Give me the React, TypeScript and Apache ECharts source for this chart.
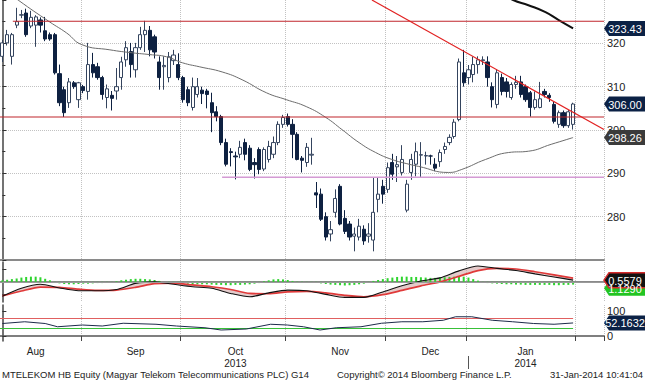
import React, { useEffect, useRef } from "react";
import * as echarts from "echarts";

// ---- price data (daily candles, oldest first) ----
const open = [317.0,320.1,317.0,324.2,326.5,327.0,324.0,324.2,325.4,322.9,
322.0,322.0,313.0,309.3,306.3,310.9,307.0,310.0,308.9,315.1,
314.6,312.1,307.5,308.0,309.0,312.1,316.2,318.1,313.9,319.0,
322.0,323.0,321.5,315.7,314.6,312.1,316.0,315.1,312.1,309.3,
305.2,308.2,309.2,309.0,306.3,304.2,303.1,297.1,295.0,294.0,
294.4,297.1,295.8,292.5,295.5,291.0,293.2,294.4,297.1,301.3,
303.1,301.3,299.0,293.5,292.5,294.2,285.5,285.2,280.0,276.0,
281.0,287.0,279.6,278.3,275.5,275.3,277.1,275.5,274.6,284.0,
287.0,286.3,292.5,291.5,290.2,281.5,290.2,292.1,294.2,294.0,
294.0,292.1,292.7,295.5,297.1,298.5,302.4,313.2,312.1,312.8,
315.1,316.0,315.7,310.0,305.9,312.1,311.1,307.5,310.5,311.1,
310.0,308.6,305.2,305.2,308.9,308.0,305.9,301.3,304.0,301.0,
301.3];
const close = [320.1,322.0,322.0,325.0,326.6,322.0,326.0,326.1,324.2,321.0,
321.0,313.2,306.3,304.0,311.1,310.0,310.9,309.1,315.1,313.2,
312.1,308.2,309.5,307.3,310.0,315.7,319.0,315.1,319.0,322.0,
323.0,318.5,318.0,312.1,314.9,316.9,317.3,312.1,307.0,306.3,
310.0,310.0,308.4,308.2,304.0,303.1,297.1,292.1,294.8,293.8,
296.0,294.4,290.9,292.0,290.9,295.5,296.2,297.1,301.3,302.9,
301.3,299.0,293.2,293.0,296.0,294.4,285.0,279.4,275.3,277.0,
284.2,278.3,276.6,275.3,276.0,277.8,274.4,276.0,281.0,285.2,
285.2,291.3,289.8,292.0,293.2,287.5,293.2,295.0,294.3,294.1,
294.0,291.2,294.8,296.2,298.3,301.8,315.7,310.9,313.9,315.1,
316.2,316.2,312.1,307.0,313.2,308.9,308.9,310.5,311.0,308.2,
307.0,305.2,307.0,307.2,308.2,307.5,302.0,304.0,301.0,304.2,
306.0];
const low = [315.7,319.5,315.1,323.5,325.8,321.5,323.5,319.2,322.5,320.5,
320.6,312.8,305.5,303.0,305.1,309.5,305.1,308.5,307.0,312.1,
311.6,307.0,305.0,304.5,307.0,309.3,314.6,312.1,312.1,318.5,
318.0,317.0,316.5,309.3,309.3,311.0,315.0,311.5,306.3,305.5,
304.5,307.5,306.0,305.0,299.5,302.0,296.5,291.6,291.6,288.6,
293.5,293.0,290.5,288.8,289.8,290.5,292.5,293.5,296.5,300.5,
300.8,293.5,293.0,290.2,291.5,292.0,282.0,279.0,274.5,274.3,
279.8,278.0,276.0,274.5,272.0,274.5,273.5,274.0,272.0,281.0,
283.0,285.5,288.5,288.0,289.5,281.0,288.5,289.3,289.0,292.0,
292.0,290.5,291.5,294.5,296.5,298.0,302.0,310.0,310.5,311.0,
313.0,315.0,310.0,305.2,305.0,308.0,307.5,307.0,309.5,307.5,
306.5,303.1,304.7,305.0,307.5,306.5,301.5,300.5,300.5,300.5,
300.1];
const high = [320.8,323.1,322.4,328.2,327.7,328.0,327.5,326.5,326.0,326.1,
322.5,322.4,315.1,310.0,312.0,311.3,311.1,310.4,320.1,317.8,
315.5,312.5,310.5,309.0,314.3,316.9,320.5,320.1,320.1,323.8,
325.2,324.0,322.0,317.0,317.0,318.0,318.5,317.7,312.5,310.0,
312.1,312.0,310.0,309.5,308.6,305.5,303.5,298.0,295.8,295.0,
297.5,298.0,296.5,293.5,296.0,296.0,297.5,298.5,302.0,303.5,
303.8,302.5,299.5,294.0,297.0,298.2,288.0,286.5,281.0,279.0,
286.3,287.5,281.5,279.0,277.5,279.5,278.0,278.5,289.0,289.0,
288.5,292.5,294.5,294.0,296.5,288.5,294.5,297.1,297.2,295.0,
294.3,293.5,295.5,297.1,299.0,302.5,316.5,318.5,315.0,316.9,
317.0,317.0,317.0,311.0,314.0,313.0,312.0,311.0,312.5,312.5,
310.5,309.0,308.9,311.1,309.5,308.5,306.5,304.5,304.5,304.6,
306.3];

// ---- moving averages (read at candle positions) ----
const maMidIdx = [0,3.3,10,13.5,16.7,22.6,27.4,31,34.5,37.9,41.4,46.2,50.4,55.5,59.7,63.9,68,71.4,75,78.5,81.9,85.5,87.5,93.8,96.6,101.6,106.4,110.6,115.4,120];
const maMidVal = [332.8,330.0,324.9,322.4,319.7,318.5,317.8,317.4,316.9,315.5,314.6,313.4,311.6,308.6,307.0,305.4,302.9,300.1,297.1,294.8,293.2,292.1,291.6,290.2,290.9,293.2,294.8,295.1,296.7,298.26];
const maLongIdx = [104,107.4,110.6,114.2,116.9,120];
const maLongVal = [332.0,330.0,328.8,327.2,325.4,323.43];

// ---- drawn levels ----
const resistanceLevel = 325.1;
const resistanceFrom = 2.2;
const supportLevel = 303.0;
const lowLevel = 289.1;
const lowLevelFrom = 46.2;
const trendIdx = [77.7, 126.5];
const trendVal = [330.0, 300.1];

// ---- MACD panel ----
const macdIdx = [0,4,8,12,16,20,24,28,32,36,40,44,48,52,56,60,64,68,72,76,80,84,88,92,96,100,104,108,112,116,120];
const macdVal = [-4.7,-2.1,-0.8,-2.0,-2.9,-2.9,-2.5,-0.5,0.0,-0.8,-1.6,-2.1,-3.8,-4.9,-3.6,-2.7,-2.9,-4.1,-5.1,-5.1,-3.3,-1.3,0.3,1.3,3.6,5.2,4.4,3.7,2.6,1.6,0.56];
const signalVal = [-4.6,-3.0,-1.7,-1.8,-2.4,-2.8,-2.7,-1.8,-0.6,-0.4,-1.0,-1.6,-2.5,-3.8,-3.9,-3.3,-3.1,-3.6,-4.4,-4.9,-4.2,-2.8,-1.3,0.0,1.8,3.7,4.4,4.2,3.3,2.3,1.2];
const hist = [0.5,0.7,0.9,1.1,1.4,1.6,1.7,1.7,1.5,1.0,0.5,
-0.2,-0.5,-0.7,-0.8,-0.8,-0.7,-0.6,-0.6,-0.5,-0.4,-0.4,-0.3,-0.2,
0.2,0.5,0.7,0.9,1.0,1.0,0.9,0.8,0.6,
0.3,0.0,-0.2,-0.3,-0.4,
-0.5,-0.6,-0.7,-0.8,-0.8,-0.8,-0.9,-1.0,-1.0,-1.1,-1.1,-1.0,-1.0,-0.9,-0.8,-0.6,-0.4,
0.2,0.5,0.8,0.9,0.8,0.6,
0.3,0.1,-0.1,-0.2,-0.2,-0.3,
-0.5,-0.7,-0.9,-1.0,-1.1,-1.2,-1.1,-1.0,-0.8,-0.6,-0.3,
0.3,0.6,0.9,1.2,1.4,1.6,1.7,1.7,1.6,1.6,1.5,1.4,1.3,1.3,1.4,1.5,1.6,1.7,1.8,1.7,1.4,
0.9,0.4,
-0.2,-0.4,-0.5,-0.6,-0.7,-0.8,-0.8,-0.9,-0.9,-1.0,-1.0,-1.0,-1.0,-1.0,-1.0,-1.1,-1.1,-1.0,-1.0,-0.9];
const macdLast = "0.5579";
const signalLast = "1.1290";

// ---- RSI panel ----
const rsiIdx = [0,4.7,9,11.6,16.8,21,25.4,32.3,36.6,42.6,46,51.3,56.4,59.9,63.3,66.8,70.2,75.4,79.7,84,88.4,92.7,95.3,98.7,103,107.3,111.7,116,120];
const rsiVal = [50,57,50,37,44,40,51,47,40,33,24,28,47,44,37,24,33,37,51,57,57,63,77,77,63,57,50,47,52.16];
const rsiHigh = 70;
const rsiLow = 30;
const rsiLast = "52.1632";

// ---- axis text ----
const monthNames = ["Aug", "Sep", "Oct", "Nov", "Dec", "Jan"];
const monthDays = [21, 21, 22, 21, 17, 23];
const firstMonthShown = 17;
const yearNames = ["2013", "2014"];
const lastPrice = 306.0;
const maMidLast = 298.26;
const maLongLast = 323.43;

const FONT = '"Liberation Sans", Arial, sans-serif';

export default function App() {
  const ref = useRef<HTMLDivElement>(null);
  useEffect(() => {
    const chart = echarts.init(ref.current!, null, { renderer: "svg" });
    const n = close.length;
    const N = n + 6;
    const cats = Array.from({ length: N }, (_, i) => String(i));
    const candles = open.map((o, i) => [o, close[i], low[i], high[i]]);
    const zip = (a: number[], b: number[]) => a.map((x, i) => [x, b[i]]);

    const bounds: number[] = [firstMonthShown];
    for (let k = 1; k < monthDays.length; k++) bounds.push(bounds[k - 1] + monthDays[k]);
    const boundSet = new Set(bounds);
    const monthLabel = new Map<number, string>();
    monthDays.forEach((d, k) => monthLabel.set(Math.round(bounds[k] - d / 2), monthNames[k]));
    const yearBoundary = bounds[4];
    const yearLabel = new Map<number, string>();
    yearLabel.set(Math.round(yearBoundary / 2), yearNames[0]);
    yearLabel.set(Math.round((yearBoundary + bounds[5]) / 2), yearNames[1]);

    const splitV = {
      show: true,
      interval: (i: number) => boundSet.has(i),
      lineStyle: { color: "#c2c2c2", type: "dotted", width: 1 },
    };
    const catAxis = (grid: number, extra: any = {}) => ({
      type: "category",
      gridIndex: grid,
      data: cats,
      boundaryGap: true,
      axisTick: { show: false },
      axisLabel: { show: false },
      splitLine: splitV,
      ...extra,
    });
    const valX = (grid: number) => ({
      type: "value", gridIndex: grid, min: -0.5, max: N - 0.5, show: false,
    });
    const rightAxisLine = { show: true, lineStyle: { color: "#444", width: 1.5 } };

    const lineS = (xi: number, yi: number, data: any[], color: string, width: number, extra: any = {}) => ({
      type: "line", xAxisIndex: xi, yAxisIndex: yi, data, symbol: "none", silent: true,
      lineStyle: { color, width }, ...extra,
    });

    // fill between MACD and signal, drawn from the two series through the axes
    const bandSeries = {
      type: "custom", xAxisIndex: 3, yAxisIndex: 1, silent: true, data: [[0, 0]], z: 1,
      renderItem: (_p: any, api: any) => {
        const top = macdIdx.map((x, i) => api.coord([x, macdVal[i]]));
        const bot = macdIdx.map((x, i) => api.coord([x, signalVal[i]])).reverse();
        return {
          type: "polygon",
          shape: { points: top.concat(bot), smooth: 0.25 },
          style: { fill: "rgba(205,160,160,0.55)", stroke: "none" },
        };
      },
    };

    chart.setOption({
      animation: false,
      backgroundColor: "#ffffff",
      grid: [
        { left: 0, right: 41, top: 0, height: 260 },
        { left: 0, right: 41, top: 262, height: 40 },
        { left: 0, right: 41, top: 305, height: 36 },
      ],
      xAxis: [
        catAxis(0, { axisLine: { show: true, lineStyle: { color: "#8a8a8a", width: 2 } } }),
        valX(0),
        catAxis(1, { axisLine: { show: true, lineStyle: { color: "#8a8a8a", width: 2 } } }),
        valX(1),
        catAxis(2, {
          axisLine: { show: true, lineStyle: { color: "#555", width: 1.5 } },
          axisTick: { show: true, interval: (i: number) => boundSet.has(i), length: 5, lineStyle: { color: "#444" } },
          axisLabel: {
            show: true, interval: (i: number) => monthLabel.has(i),
            formatter: (v: string) => monthLabel.get(Number(v)) || "",
            color: "#222", fontSize: 10, fontFamily: FONT, margin: 5,
          },
        }),
        valX(2),
        {
          type: "category", gridIndex: 2, data: cats, boundaryGap: true, position: "bottom", offset: 15,
          axisLine: { show: false },
          axisTick: { show: true, alignWithLabel: true, interval: (i: number) => i === yearBoundary, length: 13, lineStyle: { color: "#555" } },
          axisLabel: {
            show: true, interval: (i: number) => yearLabel.has(i),
            formatter: (v: string) => yearLabel.get(Number(v)) || "",
            color: "#222", fontSize: 10, fontFamily: FONT, margin: 2,
          },
          splitLine: { show: false },
        },
      ],
      yAxis: [
        {
          type: "value", gridIndex: 0, position: "right", min: 270, max: 330, interval: 10,
          axisLine: rightAxisLine,
          axisTick: { show: true, length: 4, lineStyle: { color: "#333" } },
          minorTick: { show: true, splitNumber: 2, length: 3, lineStyle: { color: "#333" } },
          axisLabel: { color: "#222", fontSize: 11, fontFamily: FONT, margin: 3, showMinLabel: false, showMaxLabel: false },
          splitLine: { show: true, showMaxLine: false, showMinLine: false, lineStyle: { color: "#c2c2c2", type: "dotted" } },
        },
        {
          type: "value", gridIndex: 1, position: "right", min: -6.6, max: 6.5,
          axisLine: rightAxisLine,
          axisTick: { show: true, length: 4, customValues: [-4, 4], lineStyle: { color: "#333" } },
          axisLabel: { show: false },
          splitLine: { show: false },
        },
        {
          type: "value", gridIndex: 2, position: "right", min: -20, max: 124,
          axisLine: rightAxisLine,
          axisTick: { show: true, length: 4, customValues: [0, 100], lineStyle: { color: "#333" } },
          axisLabel: { show: true, customValues: [0, 100], color: "#222", fontSize: 11, fontFamily: FONT, margin: 3 },
          splitLine: { show: false },
        },
      ],
      series: [
        {
          type: "candlestick", xAxisIndex: 0, yAxisIndex: 0, data: candles, barWidth: "78%", silent: true,
          itemStyle: { color: "#ffffff", color0: "#0e2141", borderColor: "#34445e", borderColor0: "#0e2141", borderWidth: 1 },
        },
        lineS(1, 0, zip(maMidIdx, maMidVal), "#6c6c6c", 1, { smooth: true }),
        lineS(1, 0, zip(maLongIdx, maLongVal), "#111111", 2, { smooth: true }),
        lineS(1, 0, [[resistanceFrom, resistanceLevel], [N - 0.5, resistanceLevel]], "#c0262c", 1.2),
        lineS(1, 0, [[-0.5, supportLevel], [N - 0.5, supportLevel]], "#c0262c", 1.2),
        lineS(1, 0, [[lowLevelFrom, lowLevel], [N - 0.5, lowLevel]], "#d49ad4", 1.5),
        lineS(1, 0, zip(trendIdx, trendVal), "#e22222", 1.2),
        {
          type: "bar", xAxisIndex: 2, yAxisIndex: 1, data: hist, barWidth: 2, silent: true,
          itemStyle: { color: "#2fd42f" },
          markLine: {
            silent: true, symbol: "none", label: { show: false },
            lineStyle: { color: "#9a9a9a", type: "solid", width: 1 },
            data: [{ yAxis: 0 }],
          },
        },
        bandSeries,
        lineS(3, 1, zip(macdIdx, signalVal), "#e03a3a", 1.7, { smooth: 0.25 }),
        lineS(3, 1, zip(macdIdx, macdVal), "#111111", 1.1, { smooth: 0.25 }),
        lineS(5, 2, [[-0.5, rsiHigh], [n - 1, rsiHigh]], "#e06060", 1.2),
        lineS(5, 2, [[-0.5, rsiLow], [n - 1, rsiLow]], "#38c038", 1.2),
        lineS(5, 2, zip(rsiIdx, rsiVal), "#1c2b4a", 1),
      ],
    });

    const yPix = (axis: number, v: number) => chart.convertToPixel({ yAxisIndex: axis }, v) as number;
    const box = (yc: number, fill: string, text: string, stroke?: string) => ({
      type: "group",
      children: [
        {
          type: "polygon",
          shape: { points: [[604, yc], [609, yc - 7.5], [646, yc - 7.5], [646, yc + 7.5], [609, yc + 7.5]] },
          style: { fill, stroke: stroke || fill, lineWidth: stroke ? 1.5 : 0 },
          z: 100,
        },
        {
          type: "text", x: 625, y: yc + 0.5, z: 101,
          style: { text, fill: "#ffffff", font: `11px ${FONT}`, textAlign: "center", textVerticalAlign: "middle" },
        },
      ],
    });
    const macdY = yPix(1, Number(macdLast));
    chart.setOption({
      graphic: [
        box(yPix(0, maLongLast), "#0b2145", maLongLast.toFixed(2)),
        box(yPix(0, lastPrice), "#0b2145", lastPrice.toFixed(2)),
        box(yPix(0, maMidLast), "#3b3b3b", maMidLast.toFixed(2)),
        box(macdY + 8, "#22c422", signalLast),
        box(macdY, "#111111", macdLast, "#d42a2a"),
        box(yPix(2, Number(rsiLast)), "#0b2145", rsiLast),
        {
          type: "text", x: 2, y: 374, z: 100,
          style: { text: "MTELEKOM HB Equity (Magyar Telekom Telecommunications PLC) G14", fill: "#222", font: `9.5px ${FONT}`, textVerticalAlign: "middle" },
        },
        {
          type: "text", x: 337, y: 374, z: 100,
          style: { text: "Copyright\u00a9 2014 Bloomberg Finance L.P.", fill: "#222", font: `9.5px ${FONT}`, textVerticalAlign: "middle" },
        },
        {
          type: "text", x: 643, y: 374, z: 100,
          style: { text: "31-Jan-2014 10:41:04", fill: "#222", font: `9.5px ${FONT}`, textAlign: "right", textVerticalAlign: "middle" },
        },
      ],
    });
    return () => chart.dispose();
  }, []);
  return (
    <div
      ref={ref}
      style={{ position: "fixed", left: 0, top: 0, width: 645, height: 380, background: "#fff" }}
    />
  );
}
